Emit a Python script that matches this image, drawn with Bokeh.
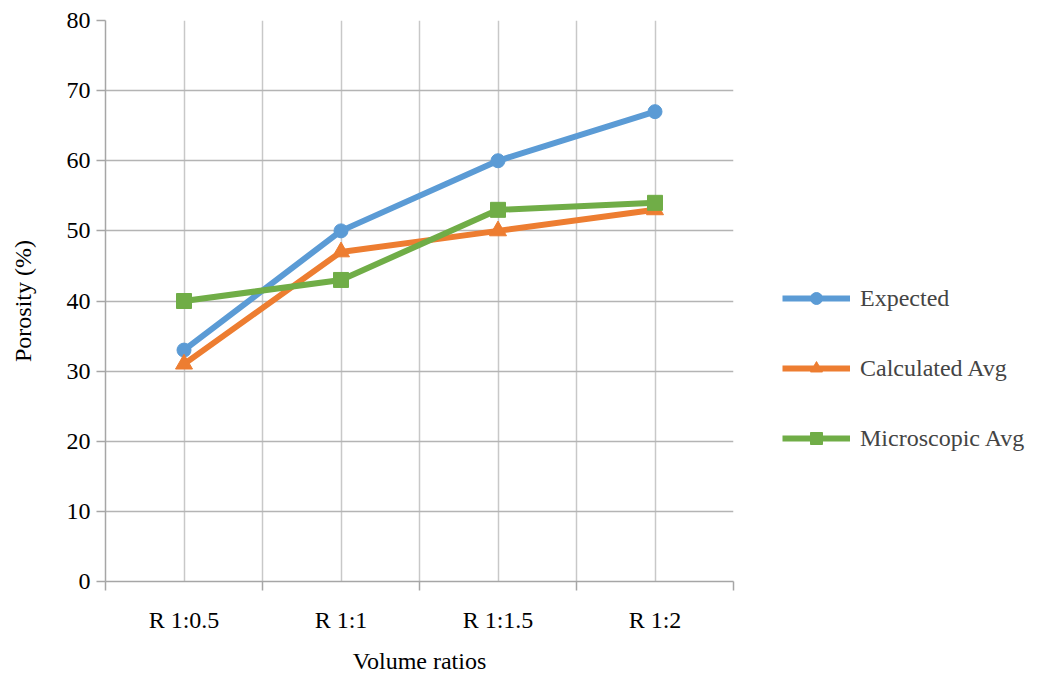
from bokeh.plotting import figure
from bokeh.models import FixedTicker, Legend, LegendItem, Range1d
from bokeh.embed import file_html
from bokeh.resources import INLINE

categories = ["R 1:0.5", "R 1:1", "R 1:1.5", "R 1:2"]
expected = [33, 50, 60, 67]
calculated_avg = [31, 47, 50, 53]
microscopic_avg = [40, 43, 53, 54]
y_ticks = [0, 10, 20, 30, 40, 50, 60, 70, 80]

x = [i + 0.5 for i in range(len(categories))]
FONT = "'Liberation Serif', 'Times New Roman', serif"
FS = "24px"

p = figure(frame_width=628, frame_height=561, output_backend="svg", toolbar_location=None,
           x_range=Range1d(0, len(categories)), y_range=Range1d(0, 80),
           min_border_left=105, min_border_right=0, min_border_top=20, min_border_bottom=85)
p.outline_line_color = None
p.background_fill_color = "white"

# axes
p.xaxis.ticker = FixedTicker(ticks=x, minor_ticks=list(range(len(categories) + 1)))
p.xaxis.major_label_overrides = {xx: c for xx, c in zip(x, categories)}
p.xaxis.major_tick_line_color = None
p.xaxis.minor_tick_in = 0
p.xaxis.minor_tick_out = 9
p.xaxis.minor_tick_line_color = "#a6a6a6"
p.xaxis.minor_tick_line_width = 1.5
p.xaxis.axis_line_color = "#a6a6a6"
p.xaxis.axis_line_width = 1.5
p.xaxis.major_label_standoff = 16
p.xaxis.axis_label = "Volume ratios"
p.xaxis.axis_label_standoff = 12

p.yaxis.ticker = FixedTicker(ticks=y_ticks)
p.yaxis.major_tick_in = 0
p.yaxis.major_tick_out = 9
p.yaxis.major_tick_line_color = "#a6a6a6"
p.yaxis.major_tick_line_width = 1.5
p.yaxis.minor_tick_line_color = None
p.yaxis.axis_line_color = "#a6a6a6"
p.yaxis.axis_line_width = 1.5
p.yaxis.major_label_standoff = 6
p.yaxis.axis_label = "Porosity (%)"
p.yaxis.axis_label_standoff = 28

for ax in (p.xaxis[0], p.yaxis[0]):
    ax.major_label_text_font = FONT
    ax.major_label_text_font_size = FS
    ax.major_label_text_color = "black"
    ax.axis_label_text_font = FONT
    ax.axis_label_text_font_size = FS
    ax.axis_label_text_font_style = "normal"
    ax.axis_label_text_color = "black"

# grids
p.xgrid.ticker = FixedTicker(ticks=[i * 0.5 for i in range(2 * len(categories) + 1)])
p.xgrid.grid_line_color = "#c8c8c8"
p.xgrid.grid_line_width = 1.5
p.ygrid.ticker = FixedTicker(ticks=y_ticks)
p.ygrid.grid_line_color = "#b4b4b4"
p.ygrid.grid_line_width = 1.5

series = [
    ("Expected", expected, "#5B9BD5", "circle", 14),
    ("Calculated Avg", calculated_avg, "#ED7D31", "triangle", 17),
    ("Microscopic Avg", microscopic_avg, "#70AD47", "square", 15),
]
items = []
for name, vals, color, marker, size in series:
    l = p.line(x, vals, line_color=color, line_width=6, line_join="round")
    m = p.scatter(x, vals, marker=marker, size=size, fill_color=color, line_color=color)
    items.append(LegendItem(label=name, renderers=[l, m]))

legend = Legend(items=items, location=(49, 128), glyph_width=68, glyph_height=30,
                label_height=22, spacing=40, label_text_font=FONT, label_text_font_size=FS,
                label_standoff=10, border_line_color=None, background_fill_alpha=0,
                padding=0, margin=0)
p.add_layout(legend, "right")

open("out.html", "w").write(file_html(p, INLINE))
